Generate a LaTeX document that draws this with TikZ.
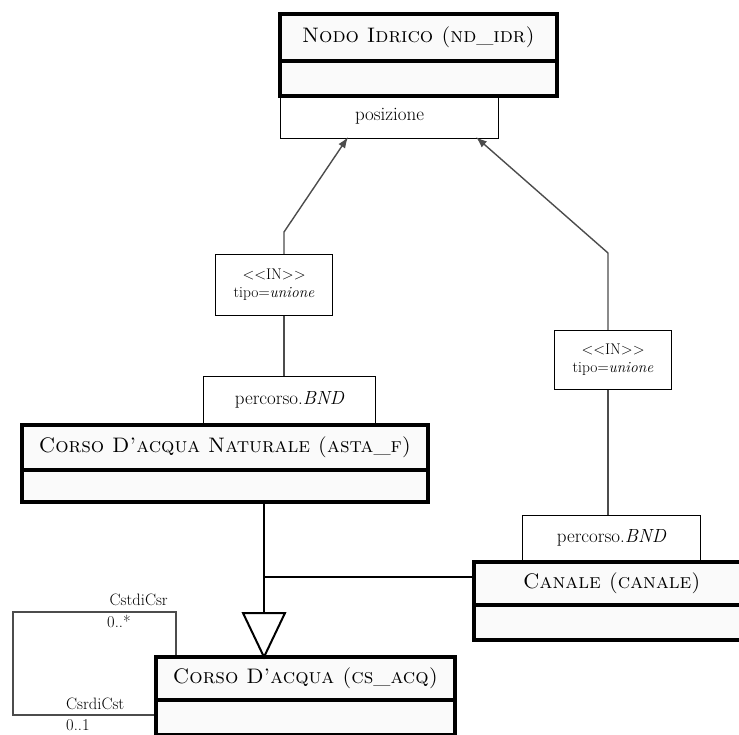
\documentclass[tikz,border=0pt]{standalone}
\usetikzlibrary{arrows.meta}
\begin{document}
\begin{tikzpicture}[x=1pt,y=-1pt,
  cls/.style={draw, line width=3.8pt, fill=gray!4, anchor=north west, inner sep=0pt},
  attr/.style={draw, line width=1.1pt, fill=white, anchor=north west, inner sep=0pt, font=\fontsize{19}{21}\selectfont},
  tag/.style={draw, line width=1.1pt, fill=white, anchor=north west, inner sep=0pt, align=center, font=\fontsize{15.5}{18}\selectfont},
  ttl/.style={font=\fontsize{21}{23}\selectfont},
  assoc/.style={draw=gray!60!black, line width=1.4pt},
  gen/.style={draw=black, line width=2pt},
  lbl/.style={inner sep=0pt, font=\fontsize{16.5}{18}\selectfont},
  tip/.style={-{Latex[length=11pt,width=8pt]}}
]
\useasboundingbox (0,0) rectangle (739,735);
% attribute boxes
\node[attr, minimum width=218, minimum height=44] (pos) at (280,94) {posizione};
\node[tag, minimum width=117, minimum height=61] (inL) at (215,254) {<\kern0pt<IN>\kern0pt>\\tipo=\textit{unione}};
\node[attr, minimum width=172, minimum height=47] (percL) at (203,376) {percorso.\textit{BND}};
\node[tag, minimum width=117, minimum height=59] (inR) at (554,330) {<\kern0pt<IN>\kern0pt>\\tipo=\textit{unione}};
\node[attr, minimum width=178, minimum height=45] (percR) at (522,515) {percorso.\textit{BND}};
% class boxes
\node[cls, ttl, minimum width=277, minimum height=47] (ndT) at (278,12) {\textsc{Nodo Idrico (nd\_idr)}};
\node[cls, minimum width=277, minimum height=35] (ndE) at (278,59) {};
\node[cls, ttl, minimum width=406, minimum height=45] (astaT) at (20,423) {\textsc{Corso D’acqua Naturale (asta\_f)}};
\node[cls, minimum width=406, minimum height=32] (astaE) at (20,468) {};
\node[cls, ttl, minimum width=276, minimum height=43] (canT) at (472,560) {\textsc{Canale (canale)}};
\node[cls, minimum width=276, minimum height=35] (canE) at (472,603) {};
\node[cls, ttl, minimum width=299, minimum height=43] (csT) at (154,655) {\textsc{Corso D’acqua (cs\_acq)}};
\node[cls, minimum width=299, minimum height=35] (csE) at (154,698) {};
% associations
\coordinate (lb) at (284,232);
\coordinate (rb) at (608,253);
\draw[assoc, tip] (lb |- inL.north) -- (lb) -- ([xshift=68pt,yshift=2pt]pos.south west);
\draw[assoc] (lb |- inL.south) -- (lb |- percL.north);
\draw[assoc, tip] (rb |- inR.north) -- (rb) -- ([xshift=196pt,yshift=2pt]pos.south west);
\draw[assoc] (rb |- inR.south) -- (rb |- percR.north);
% generalization
\coordinate (gj) at (264,577);
\coordinate (tri) at (264,613);
\draw[gen] (gj |- astaE.south) -- (tri);
\draw[gen] (gj) -- (gj -| canT.west);
\draw[gen, fill=white] ([xshift=-21pt]tri) -- ([xshift=21pt]tri) -- ([yshift=-2pt]tri |- csT.north) -- cycle;
% self association
\coordinate (s1) at (176,612);
\coordinate (s2) at (13,612);
\coordinate (s3) at (13,715);
\draw[assoc] (s1 |- csT.north) -- (s1) -- (s2) -- (s3) -- (s3 -| csE.west);
\node[lbl, anchor=base east] (l1) at (168,605) {CstdiCsr};
\node[lbl, anchor=north west] (l2) at (107,615) {0..*};
\node[lbl, anchor=base west] (l3) at (66,709) {CsrdiCst};
\node[lbl, anchor=north west] (l4) at (66,719) {0..1};
\end{tikzpicture}
\end{document}
